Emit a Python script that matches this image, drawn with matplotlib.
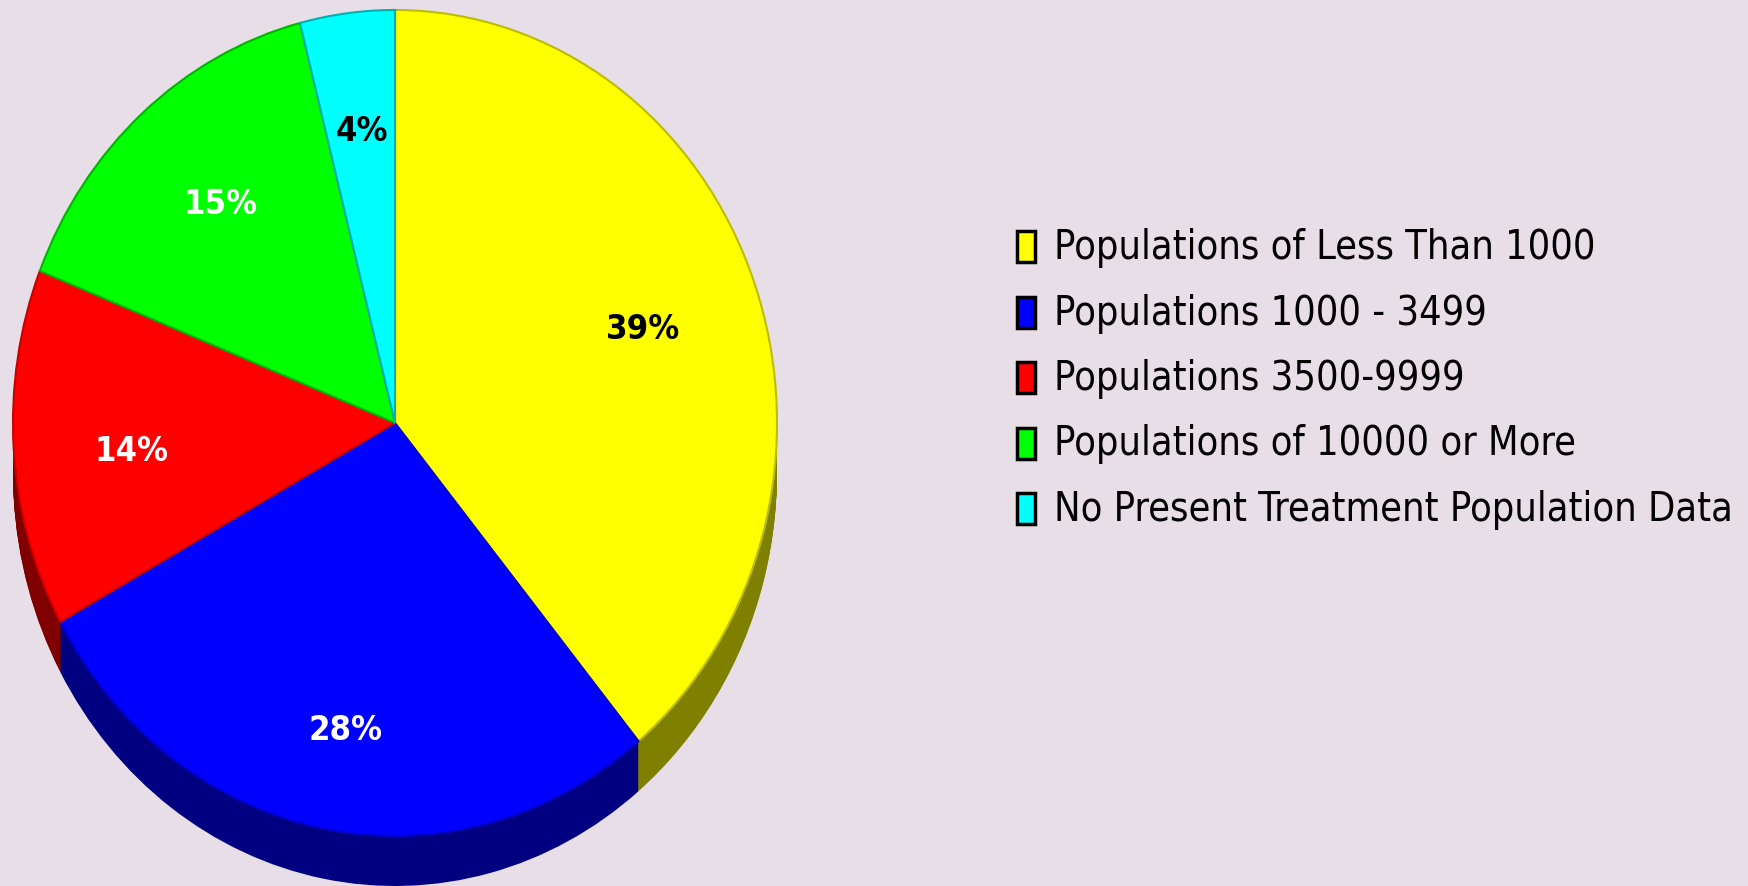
import numpy as np
import matplotlib
matplotlib.use('Agg')
import matplotlib.pyplot as plt
from matplotlib.patches import Rectangle
from matplotlib import font_manager

# data
labels = ['Populations of Less Than 1000', 'Populations 1000 - 3499',
          'Populations 3500-9999', 'Populations of 10000 or More',
          'No Present Treatment Population Data']
shares = [39, 28, 14, 15, 4]
pct_text = ['39%', '28%', '14%', '15%', '4%']

top_colors = ['#ffff00', '#0000ff', '#ff0000', '#00ff00', '#00ffff']
edge_colors = ['#bcbc00', '#0000c8', '#c80000', '#00b400', '#00b0b0']
side_colors = ['#808000', '#000080', '#800000', '#008000', '#008080']
text_colors = ['black', 'white', 'white', 'white', 'black']


# look for a narrow font, the original text is very condensed
def pick_font(bold):
    best = None
    for f in font_manager.fontManager.ttflist:
        nm = f.name + ' ' + str(f.stretch)
        if not ('Narrow' in nm or 'ondensed' in nm):
            continue
        if 'Italic' in f.fname or 'Oblique' in f.fname or f.style != 'normal':
            continue
        w = f.weight if isinstance(f.weight, int) else (700 if 'bold' in str(f.weight) else 400)
        score = abs(w - (700 if bold else 400))
        if best is None or score < best[0]:
            best = (score, f.fname)
    if best is None:
        return font_manager.FontProperties(family='DejaVu Sans',
                                           weight='bold' if bold else 'normal')
    return font_manager.FontProperties(fname=best[1])


fp_leg = pick_font(False)
fp_pct = pick_font(True)

bg = '#e7dee7'
W, H = 1748, 887
fig = plt.figure(figsize=(W / 100, H / 100), dpi=100, facecolor=bg)
renderer = fig.canvas.get_renderer()


def fit_size(t, size, target):
    # scale the font size so that the text is about target pixels wide
    t.set_fontsize(size)
    w = t.get_window_extent(renderer).width
    return size * target / w


# pie axes, stretched so the pie comes out as a tall ellipse
depth = 0.121
ax = fig.add_axes([13 / W, 0, 764 / W, 876 / H])
ax.set_facecolor(bg)

# 3d side: stack darker copies downwards
for d in np.linspace(depth, 0.005, 40):
    ax.pie(shares, colors=side_colors, startangle=90, counterclock=False,
           center=(0, -d), radius=1, wedgeprops=dict(linewidth=0))

wedges, _ = ax.pie(shares, colors=top_colors, startangle=90, counterclock=False,
                   radius=1, wedgeprops=dict(linewidth=1.5))
for w, ec in zip(wedges, edge_colors):
    w.set_edgecolor(ec)

ax.set_aspect('auto')
ax.set_xlim(-1, 1)
ax.set_ylim(-1 - depth, 1)
ax.axis('off')

# size of the percentage labels from the width of "39%" (a bit wider, text is taller there)
t = fig.text(0, 0, pct_text[0], fontproperties=fp_pct)
pct_size = fit_size(t, 20, 74)
t.remove()

tot = float(sum(shares))
start = 90.0
for val, txt, tc in zip(shares, pct_text, text_colors):
    mid = np.deg2rad(start - val / tot * 180.0)
    start -= val / tot * 360.0
    ax.text(0.69 * np.cos(mid), 0.735 * np.sin(mid) - 0.02, txt,
            ha='center', va='center', color=tc,
            fontproperties=fp_pct, fontsize=pct_size)

# legend drawn by hand, first line is about 540 px wide
t = fig.text(0, 0, labels[0], fontproperties=fp_leg)
leg_size = fit_size(t, 20, 541)
t.remove()

y0 = 248
step = 65.5
for i, (lab, col) in enumerate(zip(labels, top_colors)):
    yc = y0 + i * step
    fig.patches.append(Rectangle((1017 / W, 1 - (yc + 15) / H), 18 / W, 31 / H,
                                 transform=fig.transFigure, facecolor=col,
                                 edgecolor='black', linewidth=2.5))
    fig.text(1054 / W, 1 - yc / H, lab, ha='left', va='center', color='black',
             fontproperties=fp_leg, fontsize=leg_size)

fig.savefig('out.png', dpi=100, facecolor=bg)
